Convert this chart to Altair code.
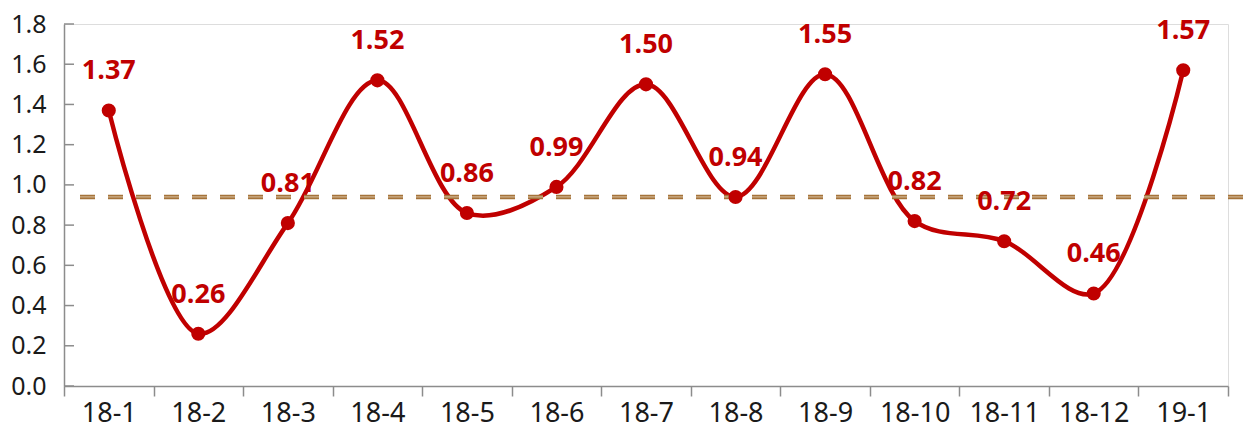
import altair as alt
import pandas as pd

months = ["18-1", "18-2", "18-3", "18-4", "18-5", "18-6", "18-7",
          "18-8", "18-9", "18-10", "18-11", "18-12", "19-1"]
values = [1.37, 0.26, 0.81, 1.52, 0.86, 0.99, 1.50, 0.94, 1.55, 0.82, 0.72, 0.46, 1.57]
ref_value = [0.94]
y_ticks = [0.0, 0.2, 0.4, 0.6, 0.8, 1.0, 1.2, 1.4, 1.6, 1.8]

df = pd.DataFrame({"month": months, "value": values})
ref_df = pd.DataFrame({"ref": ref_value})
tick_df = pd.DataFrame({"value": y_ticks})

FONT = "Noto Sans"
RED = "#C00000"
AXIS_C = "#8C8C8C"

yscale = alt.Scale(domain=[0, 1.8], nice=False)

x_enc = alt.X(
    "month:N", sort=months, bandPosition=0.5, title=None,
    scale=alt.Scale(type="band", paddingInner=0, paddingOuter=0),
    axis=alt.Axis(labelAngle=0, tickBand="extent", tickSize=10, labelPadding=4, grid=False,
                  labelFontSize=27, labelFont=FONT),
)
y_enc = alt.Y(
    "value:Q", title=None, scale=yscale,
    axis=alt.Axis(values=y_ticks, format=".1f", ticks=False, labelPadding=18, grid=False,
                  labelFontSize=25, labelFont=FONT),
)

base = alt.Chart(df).encode(x=x_enc, y=y_enc)

line = base.mark_line(color=RED, strokeWidth=4.5, interpolate="catmull-rom")
points = base.mark_circle(color=RED, size=200, opacity=1)
labels = base.mark_text(dy=-39, fontSize=27, fontWeight="bold", color=RED, font="Open Sans").encode(
    text=alt.Text("value:Q", format=".2f")
)

yticks = alt.Chart(tick_df).mark_rule(color=AXIS_C, strokeWidth=1.5).encode(
    y=alt.Y("value:Q", scale=yscale),
    x=alt.value(0), x2=alt.value(10),
)

ref_line = alt.Chart(ref_df).mark_rule(strokeDash=[15, 13], strokeWidth=4.5, color="#A5733A").encode(
    y=alt.Y("ref:Q"), x=alt.value(16), x2=alt.value(1180),
)
ref_line2 = alt.Chart(ref_df).mark_rule(strokeDash=[15, 13], strokeWidth=1.2, color="#D8C2A4", opacity=0.8).encode(
    y=alt.Y("ref:Q"), x=alt.value(16), x2=alt.value(1180),
)

chart = alt.layer(line, yticks, ref_line, ref_line2, points, labels).properties(
    width=1164, height=362,
    autosize=alt.AutoSizeParams(type="none"),
    padding={"left": 64, "top": 24, "right": 16, "bottom": 45},
).configure_view(stroke=None).configure(background="white").configure_axis(
    labelFont=FONT, labelColor="#1a1a1a",
    domainColor=AXIS_C, domainWidth=1.5, tickColor=AXIS_C, tickWidth=1.5,
)

chart.save("out.html", embed_options={"renderer": "svg", "actions": False})
